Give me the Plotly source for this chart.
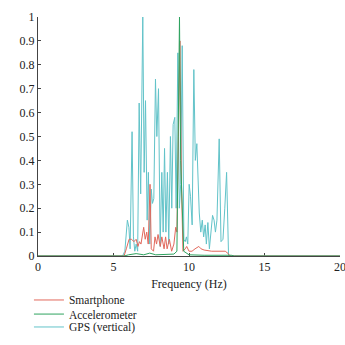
import plotly.graph_objects as go

gps_x = [0, 5.6, 5.75, 5.92, 6.02, 6.1, 6.23, 6.32, 6.41, 6.5, 6.6, 6.70, 6.80, 6.94, 7.03, 7.12, 7.23, 7.31,
         7.40, 7.50, 7.58, 7.67, 7.78, 7.87, 7.98, 8.09, 8.2, 8.29, 8.38, 8.47, 8.57, 8.66, 8.77, 8.86,
         8.95, 9.06, 9.15, 9.26, 9.36, 9.45, 9.55, 9.66, 9.75, 9.83, 9.92, 10.01, 10.1, 10.21, 10.32,
         10.42, 10.52, 10.6, 10.68, 10.78, 10.88, 10.97, 11.07, 11.15, 11.25, 11.35, 11.45, 11.56,
         11.66, 11.75, 11.85, 12.0, 12.12, 12.25, 12.37, 12.49, 12.62, 20]
gps_y = [0, 0, 0.02, 0.15, 0.12, 0.03, 0.52, 0.08, 0.02, 0.05, 0.02, 0.64, 0.26, 1.0, 0.35, 0.65, 0.15, 0.35,
         0.05, 0.28, 0.22, 0.24, 0.74, 0.5, 0.70, 0.04, 0.35, 0.10, 0.45, 0.10, 0.35, 0.05, 0.50, 0.20,
         0.55, 0.58, 0.2, 0.85, 0.2, 0.3, 0.88, 0.07, 0.06, 0.08, 0.05, 0.30, 0.25, 0.13, 0.78,
         0.40, 0.47, 0.30, 0.18, 0.10, 0.15, 0.08, 0.13, 0.05, 0.14, 0.03, 0.10, 0.17,
         0.15, 0.10, 0.15, 0.49, 0.06, 0.07, 0.20, 0.35, 0.0, 0]

phone_x = [0, 5.7, 5.85, 6.03, 6.2, 6.35, 6.5, 6.62, 6.72, 6.82, 7.0, 7.1, 7.2, 7.3, 7.42, 7.5, 7.65, 7.75,
           7.85, 7.95, 8.1, 8.2, 8.35, 8.45, 8.55, 8.7, 8.85, 9.0, 9.12, 9.2, 9.3, 9.4, 9.5, 9.6, 9.75,
           9.85, 10.0, 10.2, 10.4, 10.65, 10.8, 11.0, 11.5, 12.0, 12.4, 12.6, 12.7, 20]
phone_y = [0, 0, 0.03, 0.07, 0.07, 0.06, 0.07, 0.04, 0.06, 0.05, 0.12, 0.07, 0.10, 0.05, 0.30, 0.03, 0.02, 0.08,
           0.05, 0.09, 0.04, 0.08, 0.03, 0.08, 0.03, 0.07, 0.02, 0.05, 0.12, 0.10, 0.5, 0.9, 0.3, 0.02, 0.03,
           0.04, 0.02, 0.02, 0.03, 0.04, 0.03, 0.025, 0.02, 0.02, 0.02, 0.01, 0, 0]

acc_x = [0, 5.7, 6.0, 6.5, 7.0, 7.4, 7.8, 8.5, 9.0, 9.2, 9.3, 9.37, 9.45, 9.57, 9.65, 10.0, 11.0, 12.8, 13.0, 20]
acc_y = [0, 0, 0.005, 0.01, 0.005, 0.012, 0.005, 0.005, 0.008, 0.02, 0.5, 1.0, 0.4, 0.2, 0.02, 0.005, 0.003, 0.003, 0, 0]

x_ticks = [0, 5, 10, 15, 20]
y_ticks = [0, 0.1, 0.2, 0.3, 0.4, 0.5, 0.6, 0.7, 0.8, 0.9, 1]
y_labels = ["0", "0.1", "0.2", "0.3", "0.4", "0.5", "0.6", "0.7", "0.8", "0.9", "1"]

font = "Liberation Serif"
fig = go.Figure()
fig.add_trace(go.Scatter(x=gps_x, y=gps_y, mode="lines", name="GPS (vertical)",
                         line=dict(color="#62c3c9", width=1), legend="legend3"))
fig.add_trace(go.Scatter(x=phone_x, y=phone_y, mode="lines", name="Smartphone",
                         line=dict(color="#e2685c", width=1), legend="legend"))
fig.add_trace(go.Scatter(x=acc_x, y=acc_y, mode="lines", name="Accelerometer",
                         line=dict(color="#2ea35f", width=1), legend="legend2"))

leg_common = dict(xanchor="left", yanchor="middle", bgcolor="rgba(0,0,0,0)",
                  font=dict(family=font, size=11.5, color="#222"), itemwidth=30)
fig.update_layout(
    width=345, height=345,
    margin=dict(l=38, r=5, t=17, b=89, autoexpand=False),
    plot_bgcolor="white", paper_bgcolor="white",
    font=dict(family=font, size=12, color="#222"),
    showlegend=True,
    legend=dict(x=-0.03, y=-0.184, **leg_common),
    legend2=dict(x=-0.03, y=-0.243, **leg_common),
    legend3=dict(x=-0.03, y=-0.297, **leg_common),
    xaxis=dict(range=[0, 20], tickvals=x_ticks, ticks="inside", ticklen=3, tickcolor="#444",
               showline=True, linecolor="#444", linewidth=1, showgrid=False, zeroline=False,
               ticklabeloverflow="allow", layer="below traces",
               title=dict(text="Frequency (Hz)", font=dict(family=font, size=12), standoff=6)),
    yaxis=dict(range=[0, 1], tickvals=y_ticks, ticktext=y_labels, ticks="inside", ticklen=3,
               tickcolor="#444", showline=True, linecolor="#444", linewidth=1, showgrid=False,
               zeroline=False, layer="below traces"),
)
fig.write_html("out.html")
